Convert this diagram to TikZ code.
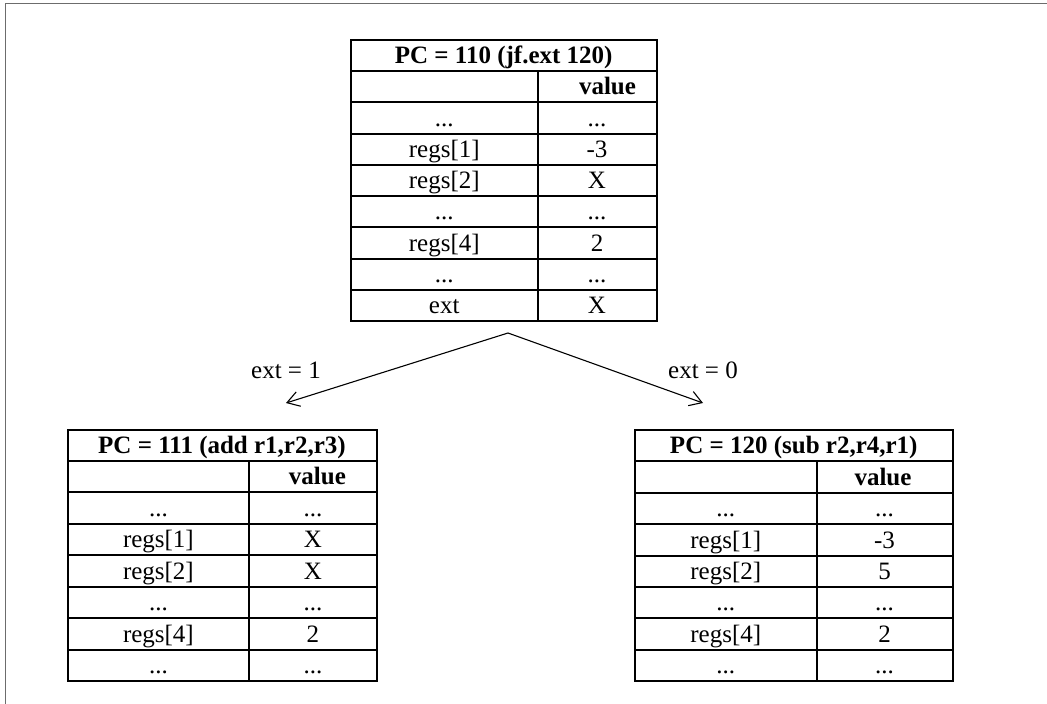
\documentclass[tikz,border=0pt]{standalone}
\usepackage{fontspec}
\setmainfont{Liberation Serif}
\usetikzlibrary{arrows.meta}
\newcommand{\dts}{.{}.{}.}
\newcommand{\mktable}[8]{% name, x0, x1, x2, y0, h, header, rows
  \node[hdr, minimum width={#4-#2}, minimum height=#6] (#1-h) at (#2,#5) {#7};
  \foreach [count=\i] \a/\b in {#8} {
    \pgfmathsetmacro\yy{#5+\i*#6}
    \node[cell, minimum width={#3-#2}, minimum height=#6] (#1-\i a) at (#2,\yy) {\a};
    \node[cell, minimum width={#4-#3}, minimum height=#6] (#1-\i b) at (#3,\yy) {\b};
  }
}
\begin{document}
\begin{tikzpicture}[x=1pt,y=-1pt,
  cell/.style={draw, line width=2pt, inner sep=0pt, outer sep=0pt, anchor=north west,
    text height=18pt, text depth=1.7pt, font=\fontsize{25}{30}\selectfont, align=center},
  hdr/.style={cell, font=\fontsize{25}{30}\selectfont\bfseries},
  conn/.style={line width=1.1pt, -{Straight Barb[length=12pt,width=15pt,line width=1.1pt]}},
  lbl/.style={font=\fontsize{25}{30}\selectfont, anchor=base, inner sep=0pt}]
\useasboundingbox (0,0) rectangle (1047,704);
\draw[gray!85!black, line width=1.5pt] (5.5,704) -- (5.5,3.7) -- (1047,3.7);

\mktable{top}{351}{537.5}{656.5}{39.8}{31.25}{PC = 110 (jf.ext 120)}%
  {{}/\hspace*{21pt}\textbf{value}, \dts/\dts, regs[1]/-3, regs[2]/X, \dts/\dts, regs[4]/2, \dts/\dts, ext/X}
\mktable{left}{67.5}{249.3}{376.5}{429.5}{31.44}{PC = 111 (add r1,r2,r3)}%
  {{}/\hspace*{9pt}\textbf{value}, \dts/\dts, regs[1]/X, regs[2]/X, \dts/\dts, regs[4]/2, \dts/\dts}
\mktable{right}{635}{816.5}{952.5}{430}{31.4}{PC = 120 (sub r2,r4,r1)}%
  {{}/\hspace*{-3pt}\textbf{value}, \dts/\dts, regs[1]/-3, regs[2]/5, \dts/\dts, regs[4]/2, \dts/\dts}

\coordinate (apex) at (508,333);
\coordinate (tipL) at (286,403);
\coordinate (tipR) at (703,403);
\draw[conn] (apex) -- (tipL);
\draw[conn] (apex) -- (tipR);
\node[lbl] (lab1) at (286,378) {ext = 1};
\node[lbl] (lab0) at (703,378) {ext = 0};
\end{tikzpicture}
\end{document}
